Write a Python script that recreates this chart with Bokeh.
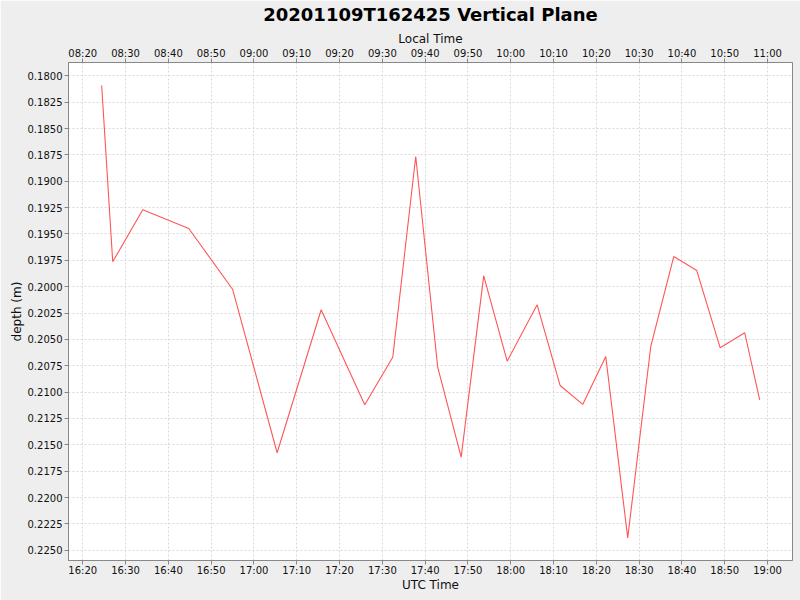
import pandas as pd
from bokeh.plotting import figure
from bokeh.models import (Range1d, DatetimeAxis, DatetimeTickFormatter, FixedTicker,
                          NumeralTickFormatter, SingleIntervalTicker, Grid)
from bokeh.embed import file_html
from bokeh.resources import INLINE

title = "20201109T162425 Vertical Plane"
date = "2020-11-09"
utc_times = ["16:24:25", "16:27:00", "16:34:01", "16:44:46", "16:55:00", "17:05:25",
             "17:15:42", "17:25:53", "17:32:26", "17:37:48", "17:42:56", "17:48:25",
             "17:53:41", "17:59:10", "18:06:10", "18:11:32", "18:16:49", "18:22:12",
             "18:27:20", "18:32:43", "18:38:05", "18:43:28", "18:48:56", "18:54:40",
             "18:58:10"]
depth = [0.18092, 0.19764, 0.19271, 0.19448, 0.20024, 0.21575,
         0.20219, 0.21120, 0.20669, 0.18765, 0.20764, 0.21617,
         0.19897, 0.20707, 0.20172, 0.20937, 0.21117, 0.20662,
         0.22382, 0.20567, 0.19714, 0.19847, 0.20580, 0.20437,
         0.21073]
utc_tick_labels = ["16:20", "16:30", "16:40", "16:50", "17:00", "17:10", "17:20", "17:30",
                   "17:40", "17:50", "18:00", "18:10", "18:20", "18:30", "18:40", "18:50", "19:00"]
local_offset_hours = -8
x_view = ["16:16:40", "19:05:50"]
y_view = [0.17874, 0.22597]

FONT = "DejaVu Sans"

t = pd.to_datetime([f"{date} {s}" for s in utc_times])
x0 = pd.Timestamp(f"{date} {x_view[0]}")
x1 = pd.Timestamp(f"{date} {x_view[1]}")
off = pd.Timedelta(hours=local_offset_hours)

def ms(ts):
    return ts.value / 1e6

utc_ticks = [ms(pd.Timestamp(f"{date} {s}")) for s in utc_tick_labels]
local_ticks = [ms(pd.Timestamp(f"{date} {s}") + off) for s in utc_tick_labels]

p = figure(width=800, height=600, output_backend="svg", toolbar_location=None,
           x_axis_type=None, x_range=Range1d(x0, x1),
           y_range=Range1d(y_view[1], y_view[0]),
           min_border_left=68, min_border_right=8, min_border_top=62, min_border_bottom=40)
p.extra_x_ranges = {"local": Range1d(x0 + off, x1 + off)}

p.line(t, depth, line_color="#ff5555", line_width=1.1)

p.background_fill_color = "white"
p.border_fill_color = "#eeeeee"
p.outline_line_color = "#888888"

p.title.text = title
p.title.align = "center"
p.title.vertical_align = "top"
p.title.text_font = FONT
p.title.text_font_size = "18px"
p.title.text_font_style = "bold"
p.title.text_color = "black"
p.title.standoff = 4

def make_fmt():
    return DatetimeTickFormatter(minutes="%H:%M", hours="%H:%M", minsec="%H:%M",
                                 hourmin="%H:%M", context=None)

top = DatetimeAxis(x_range_name="local", ticker=FixedTicker(ticks=local_ticks),
                   formatter=make_fmt(), axis_label="Local Time")
p.add_layout(top, "above")

xa = DatetimeAxis(ticker=FixedTicker(ticks=utc_ticks), formatter=make_fmt(),
                  axis_label="UTC Time")
p.add_layout(xa, "below")

ya = p.yaxis[0]
ya.ticker = SingleIntervalTicker(interval=0.0025)
ya.formatter = NumeralTickFormatter(format="0.0000")
ya.axis_label = "depth (m)"

for ax in [top, xa, ya]:
    ax.axis_line_color = "#888888"
    ax.major_tick_line_color = "#888888"
    ax.major_tick_out = 4
    ax.major_tick_in = 0
    ax.minor_tick_line_color = None
    ax.major_label_text_font = FONT
    ax.major_label_text_font_size = "10px"
    ax.major_label_text_color = "#111111"
    ax.major_label_standoff = 2
    ax.axis_label_text_font = FONT
    ax.axis_label_text_font_size = "12px"
    ax.axis_label_text_font_style = "normal"
    ax.axis_label_text_color = "#111111"
    ax.axis_label_standoff = 2
ya.axis_label_standoff = 1
top.major_label_standoff = 0
top.axis_label_standoff = -1
xa.major_label_standoff = 0
xa.axis_label_standoff = -1

xgrid = Grid(dimension=0, ticker=FixedTicker(ticks=utc_ticks))
p.add_layout(xgrid)
for g in [xgrid, p.ygrid[0]]:
    g.grid_line_color = "#d9d9d9"
    g.grid_line_dash = "2 2"
    g.grid_line_width = 1

html = file_html(p, INLINE, title=title)
html = html.replace("<body>", '<body style="background:#eeeeee">', 1)
open("out.html", "w").write(html)
